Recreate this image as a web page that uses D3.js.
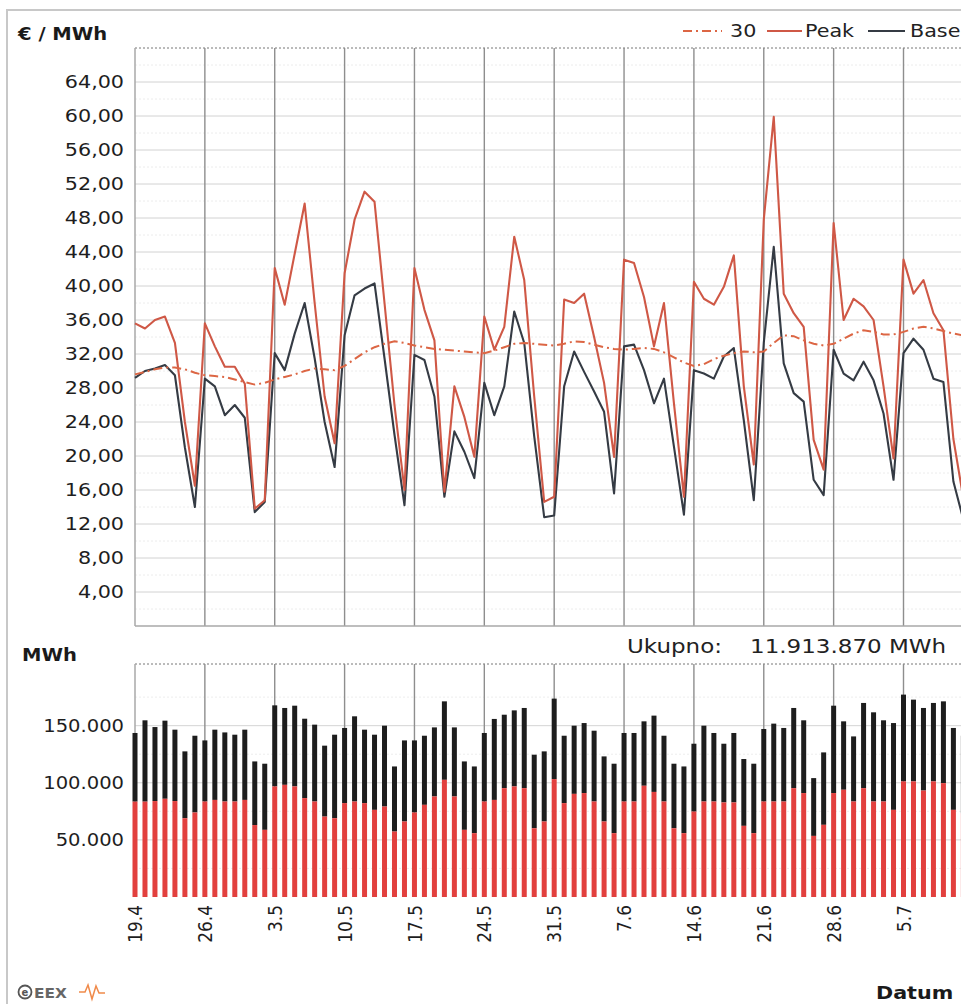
<!DOCTYPE html>
<html><head><meta charset="utf-8">
<script src="https://cdn.jsdelivr.net/npm/d3@7/dist/d3.min.js"></script>
<style>
html,body{margin:0;padding:0;background:#fff;overflow:hidden;}
svg{display:block;font-family:"DejaVu Sans",Verdana,sans-serif;}
</style></head><body>
<svg id="c" width="961" height="1004"></svg>
<script>
// ---------- data ----------
const startDate = "2010-04-19";
const dayCount = 84;
const tickLabels = ["19.4","26.4","3.5","10.5","17.5","24.5","31.5","7.6","14.6","21.6","28.6","5.7"];
const seriesNames = ["30","Peak","Base"];
const peak = [
 35.6,35.0,36.0,36.4,33.3,24.0,16.5,
 35.6,32.9,30.5,30.5,28.5,13.8,14.8,
 42.1,37.8,43.8,49.7,38.0,27.0,21.5,
 41.5,47.8,51.1,49.9,38.0,26.0,16.0,
 42.1,37.2,33.6,15.8,28.2,24.6,19.9,
 36.4,32.5,35.2,45.8,40.7,27.0,14.6,
 15.2,38.4,38.0,39.1,34.0,28.6,19.9,
 43.1,42.7,38.7,32.9,38.0,26.2,15.2,
 40.5,38.5,37.8,39.9,43.6,28.2,19.0,
 47.8,59.9,39.1,36.8,35.2,21.9,18.4,
 47.4,36.0,38.5,37.6,36.0,28.2,19.7,
 43.1,39.1,40.7,36.8,34.8,22.0,15.0];
const base = [
 29.2,30.0,30.3,30.7,29.5,21.0,14.0,
 29.1,28.2,24.8,26.0,24.5,13.4,14.6,
 32.1,30.1,34.4,38.0,31.5,24.0,18.7,
 34.2,38.9,39.7,40.3,31.5,22.5,14.2,
 31.9,31.3,27.0,15.2,22.9,20.5,17.4,
 28.6,24.8,28.2,37.0,33.3,22.3,12.8,
 13.0,28.2,32.3,29.9,27.6,25.2,15.6,
 32.9,33.1,30.1,26.2,29.1,21.1,13.1,
 30.1,29.7,29.1,31.7,32.7,24.2,14.8,
 33.3,44.6,30.9,27.4,26.4,17.2,15.4,
 32.5,29.7,28.9,31.1,28.9,25.0,17.2,
 32.1,33.8,32.5,29.1,28.7,17.0,12.5];
const avg30 = [
 29.6,29.9,30.2,30.4,30.4,30.2,29.8,
 29.5,29.4,29.3,29.0,28.7,28.4,28.6,
 29.0,29.3,29.6,30.0,30.3,30.2,30.1,
 30.6,31.4,32.2,32.8,33.2,33.5,33.3,
 33.0,32.8,32.6,32.5,32.4,32.3,32.2,
 32.1,32.4,32.8,33.2,33.3,33.2,33.1,
 33.0,33.2,33.5,33.4,33.1,32.8,32.6,
 32.5,32.6,32.7,32.6,32.2,31.6,31.0,
 30.6,30.8,31.4,31.8,32.1,32.3,32.2,
 32.3,33.3,34.2,34.1,33.6,33.2,33.0,
 33.2,33.8,34.4,34.8,34.6,34.3,34.3,
 34.6,35.0,35.2,35.0,34.7,34.4,34.2];
// volumes in MWh: lower (red) segment and stack total (black top)
const volPeak = [
 83500,83500,84000,86000,84000,69000,74000,
 83600,85000,83600,83600,85000,63000,58800,
 96800,98200,96800,86600,83600,70400,69000,
 82200,83600,82200,76300,79200,57300,66100,
 74000,80700,88000,102600,88000,58800,55900,
 83600,85000,95300,96800,95300,60200,66100,
 103200,82200,90300,91000,83600,66100,55900,
 83600,83600,97400,92000,83600,60200,55900,
 74800,83600,83600,82800,82800,62300,55900,
 83600,83600,83600,95300,91000,53500,63200,
 91000,93900,83600,95300,83600,83600,76300,
 101200,101200,93200,101200,99700,76300,73400];
const volTotal = [
 143600,154700,148800,154400,146500,127500,141200,
 137100,146500,144100,142100,146500,118700,116700,
 167800,165500,167500,156100,150900,132500,142100,
 148000,158200,146500,142100,150000,114300,137100,
 137100,141200,148500,171300,148500,118700,114300,
 143600,155900,159600,163400,165500,124600,127500,
 173700,141200,150000,152300,145600,123100,116700,
 143600,143600,153800,158800,141200,116700,114300,
 134200,150000,143600,134200,143600,120800,116700,
 147100,151800,148000,165500,154700,104100,126600,
 167500,153800,140600,169900,161700,154700,152300,
 177200,172800,165500,169900,171300,148000,141200];
const priceTicks = [4,8,12,16,20,24,28,32,36,40,44,48,52,56,60,64];
const priceMax = 68;
const volumeTicks = [50000,100000,150000];
const volumeMax = 204000;
const totalText = ["Ukupno:", "11.913.870 MWh"];

// ---------- setup ----------
const svg = d3.select("#c");
const SX = 1.15; // horizontal glyph stretch of the original
const loc = d3.formatLocale({decimal:",", thousands:".", grouping:[3], currency:["","€"]});
const fmtPrice = loc.format(",.2f");
const fmtVol = loc.format(",d");

const parse = d3.utcParse("%Y-%m-%d");
const d0 = parse(startDate);
const days = d3.range(dayCount).map(i => d3.utcDay.offset(d0, i));
const x = d3.scaleUtc().domain([d0, d3.utcDay.offset(d0, 77)]).range([135, 903.5]);
const weekTicks = days.filter((d,i) => i % 7 === 0).slice(0, tickLabels.length);

const P = {top:48, bottom:626};
const V = {top:664, bottom:897};
const right = 1000;
const yP = d3.scaleLinear().domain([0, priceMax]).range([P.bottom, P.top]);
const yV = d3.scaleLinear().domain([0, volumeMax]).range([V.bottom, V.top]);

// outer border
svg.append("rect").attr("x",7).attr("y",10).attr("width",1100).attr("height",1100)
  .attr("fill","none").attr("stroke","#c8c8c8").attr("stroke-width",2);

function stext(str, tx, ty, size, weight, fill){
  return svg.append("text").attr("transform",`translate(${tx},${ty}) scale(${SX},1)`)
    .attr("font-size",size).attr("font-weight",weight||"normal").attr("fill",fill||"#222").text(str);
}

// ---------- price panel grid ----------
const gP = svg.append("g");
const minorP = d3.range(2, priceMax, 4);
gP.selectAll("line.mn").data(minorP).join("line")
  .attr("x1",135).attr("x2",right).attr("y1",d=>yP(d)).attr("y2",d=>yP(d))
  .attr("stroke","#ececec").attr("stroke-dasharray","2,2");
gP.selectAll("line.mj").data(priceTicks).join("line")
  .attr("x1",135).attr("x2",right).attr("y1",d=>yP(d)).attr("y2",d=>yP(d))
  .attr("stroke","#d2d2d2");
gP.append("line").attr("x1",135).attr("x2",right).attr("y1",yP(priceMax)).attr("y2",yP(priceMax))
  .attr("stroke","#777").attr("stroke-dasharray","2,2");
gP.selectAll("line.v").data(weekTicks.slice(1)).join("line")
  .attr("x1",d=>x(d)).attr("x2",d=>x(d)).attr("y1",P.top).attr("y2",P.bottom)
  .attr("stroke","#8e8e8e").attr("stroke-width",1.4);
gP.append("line").attr("x1",135).attr("x2",right).attr("y1",P.bottom).attr("y2",P.bottom).attr("stroke","#a8a8a8").attr("stroke-width",1.5);
gP.append("line").attr("x1",135).attr("x2",135).attr("y1",P.top).attr("y2",P.bottom).attr("stroke","#a8a8a8").attr("stroke-width",1.5);

// price y axis
const axP = svg.append("g").attr("transform","translate(135,0)")
  .call(d3.axisLeft(yP).tickValues(priceTicks).tickSize(0).tickPadding(11).tickFormat(fmtPrice));
axP.select(".domain").remove();
axP.selectAll("text").attr("font-size",18).attr("font-family","DejaVu Sans, sans-serif")
  .attr("fill","#1e1e1e").attr("x",-11/SX).attr("transform",`scale(${SX},1)`);

// lines
const line = arr => d3.line().x((d,i)=>x(days[i])).y(d=>yP(d))(arr);
svg.append("path").attr("d",line(base)).attr("fill","none").attr("stroke","#353b44").attr("stroke-width",2.1).attr("stroke-linejoin","round");
svg.append("path").attr("d",line(peak)).attr("fill","none").attr("stroke","#cf5846").attr("stroke-width",2.1).attr("stroke-linejoin","round");
svg.append("path").attr("d",line(avg30)).attr("fill","none").attr("stroke","#dc6644").attr("stroke-width",2).attr("stroke-dasharray","9,4,2,4");

// titles & legend
stext("€ / MWh", 18, 40, 17, "bold", "#1a1a1a");
const lg = svg.append("g");
lg.append("line").attr("x1",683).attr("x2",722).attr("y1",31).attr("y2",31).attr("stroke","#dc6644").attr("stroke-width",2).attr("stroke-dasharray","9,4,2,4");
stext(seriesNames[0], 730, 37, 18, "normal", "#222");
lg.append("line").attr("x1",767).attr("x2",802).attr("y1",31).attr("y2",31).attr("stroke","#cf5846").attr("stroke-width",2);
stext(seriesNames[1], 805, 37, 18, "normal", "#222");
lg.append("line").attr("x1",868).attr("x2",905).attr("y1",31).attr("y2",31).attr("stroke","#353b44").attr("stroke-width",2);
stext(seriesNames[2], 910, 37, 18, "normal", "#222");

// ---------- volume panel ----------
stext("MWh", 22, 661, 17, "bold", "#1a1a1a");
stext(totalText[0], 627, 653, 20, "normal", "#222");
stext(totalText[1], 750, 653, 20, "normal", "#222");

const gV = svg.append("g");
gV.selectAll("line.mn").data(d3.range(25000, volumeMax, 50000)).join("line")
  .attr("x1",135).attr("x2",right).attr("y1",d=>yV(d)).attr("y2",d=>yV(d))
  .attr("stroke","#ededed").attr("stroke-dasharray","2,2");
gV.selectAll("line.mj").data(volumeTicks).join("line")
  .attr("x1",135).attr("x2",right).attr("y1",d=>yV(d)).attr("y2",d=>yV(d))
  .attr("stroke","#d4d4d4");
gV.append("line").attr("x1",135).attr("x2",right).attr("y1",yV(volumeMax)).attr("y2",yV(volumeMax))
  .attr("stroke","#777").attr("stroke-dasharray","2,2");
gV.selectAll("line.v").data(weekTicks.slice(1)).join("line")
  .attr("x1",d=>x(d)).attr("x2",d=>x(d)).attr("y1",V.top).attr("y2",V.bottom)
  .attr("stroke","#8e8e8e").attr("stroke-width",1.4);
gV.append("line").attr("x1",135).attr("x2",135).attr("y1",V.top).attr("y2",V.bottom).attr("stroke","#a8a8a8").attr("stroke-width",1.5);

const bw = 5;
svg.append("g").selectAll("rect").data(days).join("rect")
  .attr("x",d=>x(d)-bw/2).attr("width",bw)
  .attr("y",(d,i)=>yV(volTotal[i])).attr("height",(d,i)=>yV(volPeak[i])-yV(volTotal[i]))
  .attr("fill","#1d1d1d");
svg.append("g").selectAll("rect").data(days).join("rect")
  .attr("x",d=>x(d)-bw/2).attr("width",bw)
  .attr("y",(d,i)=>yV(volPeak[i])).attr("height",(d,i)=>yV(0)-yV(volPeak[i]))
  .attr("fill","#e2403e");

const axV = svg.append("g").attr("transform","translate(135,0)")
  .call(d3.axisLeft(yV).tickValues(volumeTicks).tickSize(0).tickPadding(11).tickFormat(fmtVol));
axV.select(".domain").remove();
axV.selectAll("text").attr("font-size",17).attr("font-family","DejaVu Sans, sans-serif")
  .attr("fill","#1e1e1e").attr("x",-11/SX).attr("transform",`scale(${SX},1)`);

// x axis (rotated labels)
const axX = svg.append("g").attr("transform",`translate(0,${V.bottom})`)
  .call(d3.axisBottom(x).tickValues(weekTicks).tickSize(0).tickFormat((d,i)=>tickLabels[i]));
axX.select(".domain").remove();
axX.selectAll("text").attr("font-size",17).attr("font-family","DejaVu Sans, sans-serif")
  .attr("fill","#1e1e1e").attr("transform",`rotate(-90) scale(1,${SX})`).attr("x",-8).attr("y",0).attr("dy","0.34em")
  .style("text-anchor","end");

stext("Datum", 876, 999, 18, "bold", "#1a1a1a");

// EEX logo
const lgo = svg.append("g");
lgo.append("circle").attr("cx",25).attr("cy",992).attr("r",6.5).attr("fill","none").attr("stroke","#555").attr("stroke-width",1.8);
lgo.append("text").attr("x",25).attr("y",996).attr("text-anchor","middle").attr("font-size",10).attr("font-weight","bold").attr("fill","#555").text("e");
lgo.append("text").attr("transform","translate(34,998) scale(1.1,1)").attr("font-size",14).attr("font-weight","bold").attr("fill","#666").text("EEX");
lgo.append("path").attr("d","M79,992 L85,992 L88,985 L92,999 L96,986 L99,993 L105,993")
  .attr("fill","none").attr("stroke","#f08a4a").attr("stroke-width",1.5);
</script>
</body></html>
